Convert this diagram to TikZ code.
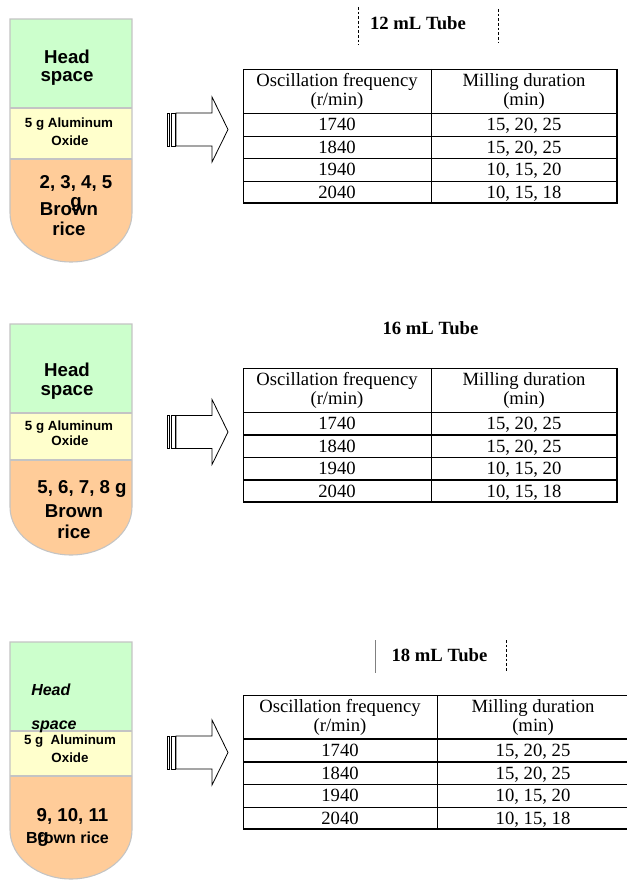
\documentclass[tikz,border=0pt]{standalone}
\usepackage{fontspec}
\setmainfont{Liberation Serif}
\newfontfamily\arialf{Liberation Sans}
\definecolor{hsgreen}{HTML}{CCFFCC}
\definecolor{alyellow}{HTML}{FFFFCC}
\definecolor{riceorange}{HTML}{FFCC99}
\definecolor{tubegray}{HTML}{C4C4C4}
\tikzset{
  tubeline/.style={draw=tubegray,line width=0.8pt},
  bigtxt/.style={font=\arialf\bfseries\fontsize{14}{16}\selectfont,inner sep=0pt,anchor=base},
  midtxt/.style={font=\arialf\bfseries\fontsize{12}{14}\selectfont,inner sep=0pt,anchor=base},
  itxt/.style={font=\arialf\bfseries\itshape\fontsize{12}{14}\selectfont,inner sep=0pt,anchor=base west},
  altxt/.style={font=\arialf\bfseries\fontsize{10}{12}\selectfont,inner sep=0pt,anchor=base},
  celltxt/.style={font=\fontsize{14}{16}\selectfont,inner sep=0pt,anchor=base},
  titletxt/.style={font=\bfseries\fontsize{14}{16}\selectfont,inner sep=0pt,anchor=base},
  thinrule/.style={line width=0.7pt},
  thickrule/.style={line width=1.2pt},
  arrowline/.style={draw=black,line width=0.6pt,fill=white},
  titledash/.style={line width=0.6pt,dash pattern=on 2pt off 1.5pt},
}
% tube: #1 top, #2 head bottom, #3 alumina bottom, #4 curve start, #5 bottom
\newcommand\mytube[5]{%
  \fill[hsgreen] (10,#1) rectangle (132,#2);
  \fill[alyellow] (10,#2) rectangle (132,#3);
  \fill[riceorange] (10,#3) -- (10,#4) .. controls (10,{#4+0.55*(#5-#4)}) and (37.3,#5) .. (71,#5)
     .. controls (104.7,#5) and (132,{#4+0.55*(#5-#4)}) .. (132,#4) -- (132,#3) -- cycle;
  \draw[tubeline] (10,#1) -- (10,#4) .. controls (10,{#4+0.55*(#5-#4)}) and (37.3,#5) .. (71,#5)
     .. controls (104.7,#5) and (132,{#4+0.55*(#5-#4)}) .. (132,#4) -- (132,#1) -- cycle;
  \draw[tubeline] (10,#2) -- (132,#2);
  \draw[tubeline] (10,#3) -- (132,#3);
}
% block arrow: #1 centre y
\newcommand\myarrow[1]{%
  \draw[arrowline] (176,{#1-16.5}) -- (212,{#1-16.5}) -- (212,{#1-32.5}) -- (228,#1)
     -- (212,{#1+32.5}) -- (212,{#1+16.5}) -- (176,{#1+16.5}) -- cycle;
  \draw[arrowline] (171.5,{#1-16.5}) rectangle (175.5,{#1+16.5});
  \draw[arrowline] (167,{#1-16.5}) rectangle (169.8,{#1+16.5});
}
% table: #1 prefix, #2 top, #3 divider x, #4 right x
\newcommand\mytable[4]{%
  \draw[thinrule] (243,{#2+134}) -- (243,#2) -- (#4,#2);
  \draw[thinrule] (#3,#2) -- (#3,{#2+134});
  \foreach \yy in {44,67,89,112} {\draw[thinrule] (243,{#2+\yy}) -- (#4,{#2+\yy});}
  \draw[thickrule] (#4,#2) -- (#4,{#2+134}) -- (243,{#2+134});
  \node[celltxt] (#1-h1) at ({(243+#3)/2},{#2+17}) {Oscillation frequency};
  \node[celltxt] (#1-h2) at ({(243+#3)/2},{#2+36}) {(r/min)};
  \node[celltxt] (#1-h3) at ({(#3+#4)/2},{#2+17}) {Milling duration};
  \node[celltxt] (#1-h4) at ({(#3+#4)/2},{#2+36}) {(min)};
  \node[celltxt] (#1-a1) at ({(243+#3)/2},{#2+61.5}) {1740};
  \node[celltxt] (#1-a2) at ({(243+#3)/2},{#2+84}) {1840};
  \node[celltxt] (#1-a3) at ({(243+#3)/2},{#2+106.5}) {1940};
  \node[celltxt] (#1-a4) at ({(243+#3)/2},{#2+129}) {2040};
  \node[celltxt] (#1-b1) at ({(#3+#4)/2},{#2+61.5}) {15, 20, 25};
  \node[celltxt] (#1-b2) at ({(#3+#4)/2},{#2+84}) {15, 20, 25};
  \node[celltxt] (#1-b3) at ({(#3+#4)/2},{#2+106.5}) {10, 15, 20};
  \node[celltxt] (#1-b4) at ({(#3+#4)/2},{#2+129}) {10, 15, 18};
}
\begin{document}
\begin{tikzpicture}[x=0.75pt,y=-0.75pt]
\useasboundingbox (0,0) rectangle (627,881);
\clip (0,0) rectangle (627,881);
\fill[white] (0,0) rectangle (627,881);

% ---------- tube 1 ----------
\mytube{19}{108}{159}{213}{262}
\node[bigtxt] (t1head) at (67,64) {Head};
\node[bigtxt] (t1space) at (67,82) {space};
\node[altxt] (t1al) at (69,127.5) {5 g Aluminum};
\node[altxt] (t1ox) at (70,145) {Oxide};
\node[bigtxt] (t1mass) at (76,188) {2, 3, 4, 5};
\node[bigtxt] (t1g) at (76,207) {g};
\node[bigtxt] (t1brown) at (69,215) {Brown};
\node[bigtxt] (t1rice) at (69,235.5) {rice};
\myarrow{129.5}
\draw[titledash] (358.5,7) -- (358.5,45);
\draw[titledash] (498.3,9) -- (498.3,43);
\node[titletxt] (title1) at (418,29.5) {12 mL Tube};
\mytable{tA}{69}{431}{617}

% ---------- tube 2 ----------
\mytube{324}{413}{460}{507}{555}
\node[bigtxt] (t2head) at (67,376.5) {Head};
\node[bigtxt] (t2space) at (67,395.5) {space};
\node[altxt] (t2al) at (69,430.5) {5 g Aluminum};
\node[altxt] (t2ox) at (70,445.5) {Oxide};
\node[bigtxt] (t2mass) at (82,493.4) {5, 6, 7, 8 g};
\node[bigtxt] (t2brown) at (74,517.4) {Brown};
\node[bigtxt] (t2rice) at (74,538.4) {rice};
\myarrow{432}
\node[titletxt] (title2) at (430.5,334) {16 mL Tube};
\mytable{tB}{368}{431}{617}
\draw[thickrule] (243,435) -- (617,435);
\draw[thickrule] (243,480) -- (617,480);

% ---------- tube 3 ----------
\mytube{642}{731}{776}{830}{879}
\node[itxt] (t3head) at (31,695.8) {Head};
\node[itxt] (t3space) at (31,729.3) {space};
\node[altxt] (t3al) at (70,744.5) {5 g\ \ Aluminum};
\node[altxt] (t3ox) at (70,762) {Oxide};
\node[bigtxt] (t3mass) at (72.5,821.7) {9, 10, 11};
\node[midtxt] (t3brown) at (67.5,843) {Brown rice};
\node[bigtxt] (t3g) at (43,842.7) {g};
\myarrow{752.5}
\draw[line width=0.6pt,gray] (375,640) -- (375,673);
\draw[titledash] (506,640) -- (506,672);
\node[titletxt] (title3) at (439.5,661.7) {18 mL Tube};
\mytable{tC}{695}{437}{629}
\draw[thickrule] (243,739) -- (629,739);
\draw[thickrule] (243,762) -- (629,762);
\end{tikzpicture}
\end{document}
